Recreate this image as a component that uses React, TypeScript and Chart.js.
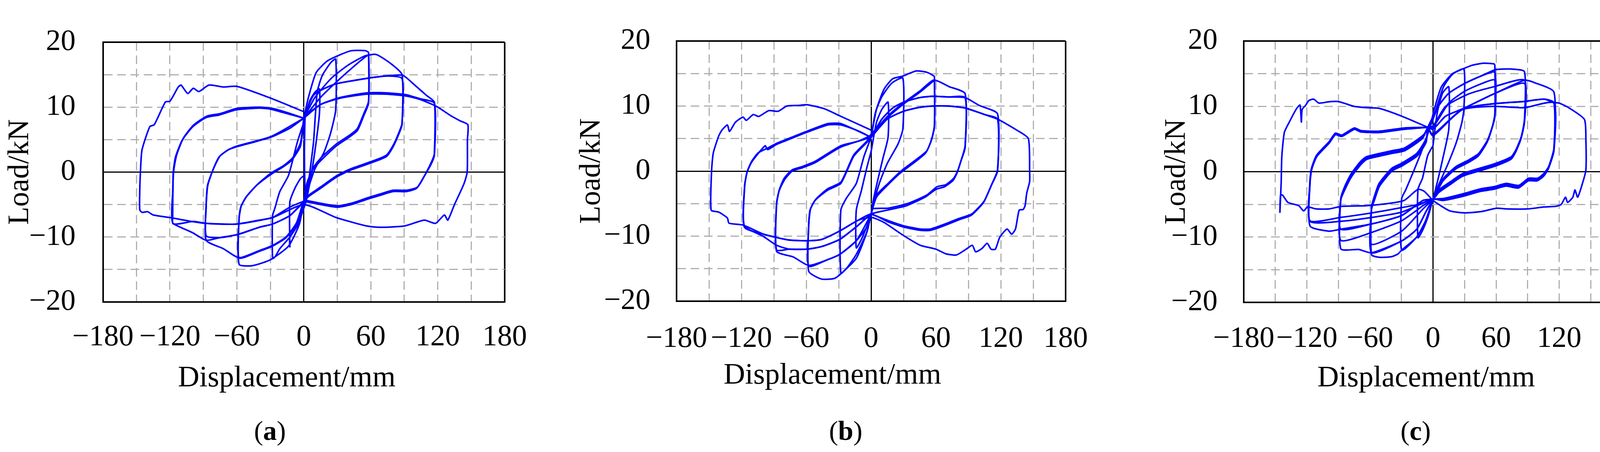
import React, { useEffect, useRef } from 'react';
import { Chart, registerables } from 'chart.js';

Chart.register(...registerables);

type Pt = [number, number];

// ---- tick values ----
const xTicks = [-180, -150, -120, -90, -60, -30, 0, 30, 60, 90, 120, 150, 180];
const yTicks = [-20, -15, -10, -5, 0, 5, 10, 15, 20];
const xLabelEvery = 60;
const yLabelEvery = 10;

// ---- specimen (a): load (kN) vs displacement (mm) ----
const aCycle14: Pt[] = [[0.5, -0.5], [0.5, 4], [1, 8.2], [5.4, 11], [10, 12.3], [14, 12.8], [14, 9], [10, 3.3], [6, -1], [2, -4.5], [-5.8, -8.2], [-12.5, -10], [-12.5, -11.5], [-12.5, -4.6], [-8, -2.5], [-3, -1], [0.5, -0.5]];
const aCycle28: Pt[] = [[1, 8.2], [0.5, 3], [1, -2], [2, -4.5], [5.4, 0], [8.7, 4.6], [12, 12.3], [16.6, 14.9], [24.4, 16.9], [28.6, 17.4], [28.6, 9.6], [24, 6], [18, 3], [10, 0.5], [5, -2], [2, -4.5], [-5.8, -8.2], [-12.5, -10], [-21.5, -11.8], [-26, -13.1], [-28, -13.3], [-28, -6.7], [-26, -5.6], [-21.5, -3], [-13.7, -0.5], [-5.8, 4.6], [1, 8.2]];
const aCycle58a: Pt[] = [[0, 8.3], [4, 11.4], [11, 15.3], [21, 17.1], [33, 18.1], [43, 18.7], [55, 18.7], [58, 18.4], [58, 10.9], [54, 9.1], [48, 6.7], [42, 5.8], [29, 4.3], [16, 2.3], [9, 0.8], [3, -1.6], [0, -4.5], [-4, -8], [-13.7, -11.4], [-30, -13.5], [-46, -14.4], [-58, -14.2], [-58, -7], [-56.5, -5.4], [-52, -3.9], [-42, -2], [-29, -0.3], [-18.5, 0.8], [-11, 1.8], [-3, 4], [0, 8.3]];
const aCycle58b: Pt[] = [[0, 8.3], [15, 11.5], [30, 14], [45, 16.3], [56.5, 17.9], [58, 17.9], [58, 10.6], [54, 8.8], [48, 6.4], [40, 5.3], [29, 4], [16, 1.9], [8, 0.4], [3, -2.2], [0, -4.8], [-6.5, -8], [-16, -10.1], [-28, -11.4], [-40, -12.2], [-58, -13.2], [-58, -7.2], [-56, -5.2], [-51, -3.7], [-41, -1.8], [-29, -0.1], [-18, 1], [-10, 2.2], [-3, 4.5], [0, 8.3]];
const aCycle88a: Pt[] = [[0, 8.3], [10, 11.5], [25, 14.5], [40, 16.5], [55, 17.9], [65, 18.1], [78, 16.7], [88, 15], [88, 7.5], [85, 6], [80, 4.1], [74, 2.6], [60, 1.6], [42, 0.5], [30, -0.5], [15, -2.3], [4, -3.6], [0, -4.4], [-6.5, -7.8], [-16, -10], [-28, -11.3], [-40, -12.1], [-58, -13.2], [-72, -11.8], [-87.5, -10.5], [-87.5, -5.4], [-86.3, -2.1], [-81.5, 0.3], [-76, 2.3], [-68, 3.4], [-60, 3.9], [-45, 4.6], [-29, 5.4], [-12, 6.8], [0, 8.3]];
const aCycle88b: Pt[] = [[0, 8.3], [9, 11.9], [27, 13.5], [45, 14.1], [59, 14.5], [74, 14.8], [88, 14.4], [88, 7.3], [85, 5.8], [80, 3.9], [74, 2.4], [60, 1.4], [42, 0.3], [30, -0.7], [15, -2.5], [4, -3.8], [0, -4.6], [-12.5, -6.7], [-28, -8], [-40, -8.5], [-59, -9.6], [-75.6, -10.1], [-87.5, -9.8], [-87.5, -5], [-86, -2], [-81, 0.5], [-75, 2.5], [-67, 3.5], [-60, 4], [-29, 5.5], [0, 8.3]];
const aCycle117a: Pt[] = [[0, 8.5], [9, 11.9], [27, 13.5], [45, 14.1], [59, 14.5], [74, 14.8], [88.7, 14.9], [100, 13.3], [110, 11.8], [117, 10.75], [117, 2.85], [115, 1.8], [109, -0.3], [102, -2.3], [92, -2.8], [80, -2.8], [68, -3.4], [56.5, -4], [44.6, -4.7], [30, -5.2], [15, -4.8], [3, -4.4], [0, -4.5], [-12.5, -6.7], [-28, -8], [-40, -8.5], [-59, -9.6], [-75.6, -10.1], [-87.5, -10.5], [-100, -9.3], [-117.3, -7.9], [-117.5, -7], [-117.3, -2.8], [-117, 0], [-115, 2.3], [-109, 4.9], [-99.4, 7], [-87.5, 8.4], [-75.6, 8.8], [-60, 9.6], [-40, 9.85], [-30, 9.7], [-15, 9], [0, 8.3]];
const aCycle117b: Pt[] = [[0, 8.3], [15, 10.4], [33, 11.5], [56.5, 12.2], [74, 12.2], [92, 11.9], [104, 11.3], [117, 10.6], [117, 2.6], [114, 1.2], [108, -0.6], [101, -2.5], [92, -3], [80, -3], [68, -3.6], [56.5, -4.2], [44.6, -4.9], [30, -5.4], [15, -5], [3, -4.6], [0, -4.5], [-12.5, -5.4], [-28, -7], [-40, -7.4], [-60, -8], [-75.6, -8], [-87.5, -7.9], [-99, -7.6], [-117.3, -7.9], [-117.3, -2.5], [-116.5, 0.3], [-114, 2.6], [-108, 5.2], [-99, 7.2], [-87, 8.6], [-75, 9], [-60, 9.8], [-40, 10], [-28, 9.8], [-12, 9], [0, 8.3]];
const aCycle147: Pt[] = [[0, 8.5], [15, 10.4], [33, 11.4], [56.5, 12], [74, 12], [92, 11.7], [104, 11.2], [119, 10.1], [131.5, 8.7], [140, 7.9], [147, 7.3], [146.6, 4.9], [146.4, 0], [143.5, -1.8], [135, -5], [129, -7.4], [126, -6.6], [118, -7.9], [108, -7.4], [90, -8.3], [68, -8.5], [56.5, -8.3], [29, -7], [0, -5], [-28, -7], [-60, -8], [-87.5, -7.9], [-104, -7.5], [-120, -7], [-135, -6.6], [-140, -6.1], [-145, -6.2], [-147, -5.8], [-147, -2.8], [-146.4, 0], [-145, 3.4], [-138, 7], [-134, 7.3], [-124, 10.8], [-120, 10.9], [-112.5, 13.1], [-110, 13.4], [-104, 12.1], [-99, 12.9], [-94, 12.4], [-85, 13.4], [-72, 13.1], [-60, 13.2], [-30, 11.4], [0, 9.3]];

// ---- specimen (b) ----
const bCycle15: Pt[] = [[0, 3], [5, 7.5], [10, 9.5], [15.7, 10.6], [15.7, 5.2], [11, 2], [6, -1.5], [2, -4.5], [0, -6.6], [-4, -8.5], [-9, -10.5], [-13.7, -11.8], [-13.7, -6], [-9, -3], [-4, 0.5], [0, 3]];
const bCycle29: Pt[] = [[0, 5.2], [4, 9], [9.8, 11.4], [19, 13.5], [29.4, 14.3], [29.4, 6.5], [25, 4.2], [15, 1.2], [8, -1.7], [3, -4.5], [0, -6.6], [-4, -9.4], [-13.7, -12.8], [-22, -14.8], [-28, -15.7], [-28, -6], [-23, -4.2], [-13.7, -1.9], [-6.5, 2.3], [0, 5.2]];
const bCycle58a: Pt[] = [[0, 5.2], [5, 9.5], [12, 12.6], [20, 14.2], [29.4, 14.6], [33.6, 14.9], [42, 15.4], [51.4, 15.2], [57.4, 14.7], [58.6, 14.5], [58.6, 7], [56, 4.9], [51.4, 3.1], [39.5, 1.5], [27.6, 0], [15.7, -1.9], [5, -3.7], [0, -6.6], [-4, -9.4], [-13.7, -13.4], [-28, -15.8], [-34, -16.5], [-45.8, -16.6], [-57.7, -15.4], [-57.7, -8.1], [-56.5, -6], [-51.8, -4.5], [-40, -2.9], [-28, -1.9], [-16, 2.3], [-4, 4.4], [0, 5.2]];
const bCycle58b: Pt[] = [[0, 5.7], [15, 8.2], [30, 10.3], [45, 12.1], [58, 13.9], [58.6, 13.9], [58.6, 6.8], [55.5, 4.6], [50.5, 2.8], [39, 1.2], [27, -0.3], [15, -2.2], [5, -4], [0, -6.6], [-4, -8.6], [-13.7, -10.7], [-29, -12.8], [-40, -13.6], [-57.7, -14.6], [-57.7, -8.3], [-56, -5.8], [-51, -4.3], [-40, -2.7], [-28, -1.7], [-16, 2.5], [-4, 4.6], [0, 5.7]];
const bCycle87a: Pt[] = [[0, 5.5], [15, 8.4], [30, 10.5], [45, 12.3], [58, 14], [72, 13], [87, 11.9], [87, 3.9], [83.6, 1.8], [80, 0], [76.4, -1.1], [69, -2.1], [61, -2.4], [51.4, -3.7], [33.6, -5], [15.7, -5.7], [1.4, -5.8], [0, -6.6], [-13.7, -10.7], [-29, -12.8], [-40, -13.6], [-57.7, -14.5], [-72, -13.2], [-87.5, -12.3], [-87.5, -5], [-85, -2.9], [-80.4, -1.1], [-73, 0.2], [-63.7, 0.7], [-51.8, 1.5], [-28, 3.9], [-12, 4.6], [0, 5.5]];
const bCycle87b: Pt[] = [[0, 5.2], [10, 8], [20, 9.7], [30, 10.6], [45, 11.3], [57, 11.5], [72, 11.4], [87, 11.3], [87, 3.6], [83, 1.5], [79.5, -0.3], [76, -1.4], [68, -2.4], [60, -2.8], [50, -4], [33, -5.3], [15, -6], [0, -6.6], [-12.5, -8.4], [-29, -10.5], [-45.8, -11.6], [-59, -12], [-75.6, -12], [-87.5, -12.1], [-87.5, -5.2], [-85, -3], [-80, -1.3], [-73, 0], [-63.7, 0.5], [-51.8, 1.3], [-28, 3.7], [0, 5.2]];
const bCycle117a: Pt[] = [[0, 5.2], [10, 8], [20, 9.7], [30, 10.6], [45, 11.3], [57, 11.5], [72, 11.4], [87, 11.3], [100, 10.1], [117, 8.8], [117, 0.2], [112, -1.9], [105, -4.5], [100, -5.5], [93, -6.6], [81, -7.3], [69, -8.1], [55, -8.9], [45.5, -8.9], [30, -8.4], [15.7, -7.6], [1.4, -6.7], [0, -6.6], [-12.5, -8.4], [-29, -10.5], [-45.8, -11.6], [-59, -12], [-75.6, -12], [-87.5, -11.4], [-100, -10], [-117.3, -8.4], [-117, -2.4], [-115, -0.3], [-111, 1.25], [-105, 2.6], [-98, 3.9], [-95.8, 3.3], [-87.5, 4.1], [-75.6, 4.9], [-63.7, 5.7], [-40, 7.1], [-28, 7.1], [-12, 6.2], [0, 5.2]];
const bCycle117b: Pt[] = [[0, 5.2], [15, 8], [30, 9.2], [45, 9.8], [57, 10], [72, 10], [87, 9.7], [100, 9], [105, 8.7], [117, 8], [117, 0], [111.5, -2.1], [104.5, -4.7], [99.5, -5.7], [92.5, -6.8], [81, -7.5], [69, -8.3], [55, -9.1], [45.5, -9.1], [30, -8.6], [15.7, -7.8], [0, -6.6], [-12.5, -7.6], [-29, -9.2], [-45.8, -10.5], [-59, -10.7], [-75.6, -10.6], [-87.5, -10.2], [-99.4, -9.7], [-117.3, -8.6], [-117, -2.2], [-114.5, 0], [-110.5, 1.5], [-104.5, 2.8], [-95, 3.6], [-87, 4.3], [-75, 5.1], [-63, 5.9], [-40, 7.3], [-28, 7.3], [0, 5.2]];
const bCycle147: Pt[] = [[0, 5.2], [15, 8], [30, 9.2], [45, 9.8], [57, 10], [72, 10], [87, 9.7], [105, 8.7], [117, 8], [121.6, 7.6], [134.8, 6.3], [145.5, 5], [146.7, 0], [146.7, -1.6], [144, -3.4], [142.5, -5.3], [140.7, -5.9], [137, -6], [133.6, -8.9], [130, -9.7], [125.8, -8.9], [119, -10.2], [115, -12], [111, -12], [107.4, -11.1], [102.6, -11.9], [96.7, -12.4], [93.7, -11.4], [88, -12], [78.8, -12.9], [69, -12.7], [60, -12], [45.5, -11.4], [30, -9.9], [12, -7.9], [0, -7.1], [-12.5, -7.6], [-29, -9.2], [-45.8, -10.5], [-59, -10.7], [-75.6, -10.6], [-87.5, -10.2], [-99.4, -9.7], [-118.5, -8.3], [-131.5, -8], [-133, -7.2], [-141, -6.3], [-148, -6], [-147.6, 0], [-146, 2.8], [-141, 5.4], [-138, 6.3], [-133, 7.1], [-131, 6.1], [-125.6, 7.5], [-118.5, 8.3], [-115.5, 7.8], [-109, 8.7], [-104, 8.4], [-94.6, 9.3], [-86, 9.2], [-78, 10], [-67, 10.1], [-59, 10.2], [-43.5, 9.6], [-29, 8.5], [0, 6.3]];

// ---- specimen (c) ----
const cCycle15: Pt[] = [[0, 4], [4, 9], [9, 12], [15, 13], [15, 6.5], [10, 2.5], [5, -1], [0, -4.2], [-5, -7], [-10, -9], [-14.3, -10.1], [-14.3, -2.7], [-10, -1], [-5, 2.5], [0, 4]];
const cCycle30: Pt[] = [[-3, 6.8], [0, 8], [4, 10.1], [10, 13], [18.5, 14.9], [29.4, 15.7], [29.4, 9.6], [27.4, 7.5], [22, 4.4], [13.7, 1], [5.4, -2], [0, -4.2], [-7, -7.5], [-15.5, -10], [-29.8, -12], [-29.8, -4.1], [-26, -2.8], [-18, 0.26], [-10, 3.5], [-3, 6.8]];
const cCycle59a: Pt[] = [[-3, 6.8], [2, 10], [8, 13], [18.5, 15], [29.4, 15.8], [37.5, 16.3], [48, 16.6], [58, 16.5], [58.8, 16.3], [58.8, 8.8], [56.6, 7], [52, 4.9], [43.5, 2.8], [34, 1.8], [22, 0.8], [10, -1], [1.8, -3.4], [0, -4.2], [-7, -7.5], [-15.5, -10], [-29.8, -12], [-33.4, -12.6], [-39.4, -13], [-51.3, -13.1], [-58.5, -12.7], [-58.5, -5.4], [-56, -3.9], [-51.3, -1.8], [-39.4, 0.5], [-29.8, 1.3], [-15.5, 2.8], [-7, 4.9], [-3, 6.8]];
const cCycle59b: Pt[] = [[-5, 6.8], [5, 10], [15, 12], [30, 13.5], [45, 14.6], [58.8, 15.2], [58.8, 8.6], [56.3, 6.8], [51.7, 4.7], [43.2, 2.6], [33.7, 1.6], [21.7, 0.6], [9.7, -1.2], [1.6, -3.6], [0, -4.2], [-7, -6.2], [-15.5, -8.8], [-29.8, -10.6], [-58.5, -12.4], [-58.5, -5.6], [-55.8, -4.1], [-51, -2], [-39.2, 0.3], [-29.6, 1.1], [-15.3, 2.6], [-6.8, 4.7], [-5, 6.8]];
const cCycle59c: Pt[] = [[-5, 6.8], [0, 6.8], [15, 10.5], [30, 12.3], [45, 13.4], [58.8, 14], [58.8, 8.4], [56, 6.6], [51.4, 4.5], [43, 2.4], [33.5, 1.4], [21.5, 0.4], [9.5, -1.4], [1.4, -3.8], [0, -4.2], [-9.5, -5.7], [-29.8, -9.1], [-58.5, -11.1], [-58.5, -5.8], [-55.6, -4.3], [-50.8, -2.2], [-39, 0.1], [-29.4, 0.9], [-15.1, 2.4], [-6.6, 4.5], [-5, 6.8]];
const cCycle87a: Pt[] = [[-3, 6.8], [5, 10], [15, 12], [30, 13.5], [45, 14.6], [58.8, 15.6], [65, 15.7], [75.7, 15.7], [87, 15.3], [87, 8], [84, 5.4], [79, 3.4], [74.5, 2.3], [60, 1.3], [46, 0.6], [28, -0.3], [16, -1.6], [5.4, -2.8], [0, -4.2], [-7, -6.2], [-15.5, -8.8], [-29.8, -10.6], [-58.5, -12.4], [-70.8, -11.9], [-87.7, -11.8], [-87.7, -4.1], [-83.5, -2.1], [-77.6, -0.26], [-69, 1.55], [-63.2, 2.3], [-39.4, 3.2], [-27.4, 3.6], [-10, 5.5], [-3, 6.8]];
const cCycle87b: Pt[] = [[-5, 6.8], [0, 7], [12, 10], [34, 11.9], [57.8, 13], [87, 14], [87, 7.8], [83.8, 5.2], [78.8, 3.2], [74.3, 2.1], [60, 1.1], [46, 0.4], [28, -0.5], [16, -1.8], [5.4, -3], [0, -4.2], [-9.5, -5.2], [-29.8, -7.5], [-58.5, -9.3], [-87.7, -10.5], [-87.7, -4.2], [-83.3, -2.3], [-77.4, -0.5], [-68.8, 1.3], [-63, 2.1], [-39.2, 3], [-27.2, 3.4], [-10, 5.3], [-5, 6.8]];
const cCycle87c: Pt[] = [[-5, 6.8], [0, 6.5], [12, 8.5], [28, 9.6], [57.8, 11.9], [87, 13.5], [87, 7.6], [83.6, 5], [78.6, 3], [74.1, 1.9], [60, 0.9], [46, 0.2], [28, -0.7], [16, -2], [5.4, -3.2], [0, -4.2], [-9.5, -4.4], [-29.8, -6.7], [-58.5, -8], [-87.7, -8.8], [-87.7, -4.3], [-83.1, -2.5], [-77.2, -0.7], [-68.6, 1.1], [-62.8, 1.9], [-39, 2.8], [-27, 3.2], [-10, 5.1], [-5, 6.8]];
const cCycle115a: Pt[] = [[-5, 6.8], [0, 6.5], [12, 8.5], [28, 9.6], [57.8, 11.9], [87, 14], [97, 13.6], [115, 12.2], [115, 3.6], [110, 0.8], [105.5, -0.26], [99.5, -1], [91, -1], [81.6, -2.1], [69.7, -1.8], [57.8, -2.3], [46, -2.6], [28, -3.4], [10, -4.1], [0, -4.2], [-9.5, -4.4], [-29.8, -6.7], [-58.5, -8], [-87.7, -8.8], [-99, -9.1], [-117, -8.3], [-117, -1.6], [-115.8, 0.26], [-111, 2.3], [-99, 4.4], [-93, 5.7], [-87, 5.4], [-75, 6.5], [-69, 6.1], [-51.3, 6], [-27.4, 6.5], [-5, 6.8]];
const cCycle115b: Pt[] = [[-5, 6.8], [0, 5.5], [28, 9.6], [57.8, 10.4], [87, 10.75], [105.5, 11.1], [115, 10.6], [115, 3.4], [109.8, 0.6], [105.3, -0.5], [99.3, -1.2], [90.8, -1.2], [81.4, -2.3], [69.5, -2], [57.6, -2.5], [45.8, -2.8], [27.8, -3.6], [9.8, -4.3], [0, -4.2], [-14, -5], [-30, -5.5], [-58, -6.3], [-88, -7], [-117, -7.5], [-117, -1.4], [-115.6, 0.5], [-110.8, 2.5], [-98.8, 4.6], [-92.8, 5.9], [-86.8, 5.6], [-74.8, 6.7], [-68.8, 6.3], [-51, 6.2], [-27, 6.7], [-5, 6.8]];
const cCycle115c: Pt[] = [[-5, 6.8], [0, 5.7], [28, 9.5], [57.8, 10], [87, 9.8], [115, 10.5], [115, 3.2], [109.6, 0.4], [105.1, -0.7], [99.1, -1.4], [90.6, -1.4], [81.2, -2.5], [69.3, -2.2], [57.4, -2.7], [45.6, -3], [27.6, -3.8], [9.6, -4.4], [0, -4.2], [-30, -6.2], [-58, -7], [-88, -7.6], [-117, -7.6], [-117, -1.8], [-115.4, 0.3], [-110.6, 2.3], [-98.6, 4.4], [-92.6, 5.7], [-86.6, 5.4], [-74.6, 6.5], [-68.6, 6.1], [-51, 6], [-27, 6.5], [-5, 6.8]];
const cCycle145: Pt[] = [[-5, 6.8], [0, 5.7], [28, 9.6], [57.8, 10.4], [87, 10.75], [105.5, 11.1], [115, 10.6], [120, 10.5], [129, 9.8], [144, 8], [145.4, 4.9], [145.4, 0.26], [142.5, -1.6], [137.6, -3.9], [135, -2.8], [133, -3.9], [128, -4.7], [126, -3.9], [122, -5], [117, -5.3], [105.5, -5.4], [90, -5.7], [69.7, -5.7], [60, -5.6], [46, -6.1], [30.4, -6.3], [16, -6], [5.4, -5], [0, -4.4], [-8.4, -3], [-14.3, -2.7], [-27.4, -4.4], [-39.4, -4.8], [-63.2, -5.2], [-87, -5.3], [-99, -5.7], [-111, -5.7], [-119.4, -5.4], [-123, -6], [-127.7, -5.2], [-138, -4.7], [-143, -3.6], [-145, -3.6], [-145.6, -6.2], [-144.4, -1.6], [-143.8, 2.3], [-141.4, 6], [-137, 7.5], [-130, 9.6], [-126.5, 10.2], [-125.2, 7.6], [-124.5, 9.5], [-121, 10.2], [-118, 10.9], [-113.4, 11.1], [-108.6, 10.5], [-99, 10.7], [-90.7, 10.75], [-84.8, 10.5], [-75.2, 10], [-63.2, 9.8], [-51.3, 9.7], [-29.8, 8.5], [-5, 6.8]];

const loopsA = [aCycle14, aCycle28, aCycle58a, aCycle58b, aCycle88a, aCycle88b, aCycle117a, aCycle117b, aCycle147];
const loopsB = [bCycle15, bCycle29, bCycle58a, bCycle58b, bCycle87a, bCycle87b, bCycle117a, bCycle117b, bCycle147];
const loopsC = [cCycle15, cCycle30, cCycle59a, cCycle59b, cCycle59c, cCycle87a, cCycle87b, cCycle87c, cCycle115a, cCycle115b, cCycle115c, cCycle145];

const FONT = "'Liberation Serif', 'Times New Roman', serif";
const CANVAS_W = 1422;
const CANVAS_H = 1010;

interface PanelLayout {
  left: number;       // page x of the canvas
  yWidth: number;     // width kept for the y axis (chart area left edge)
  rightPad: number;
  topPad: number;
  xHeight: number;    // height kept for the x axis
  yTickPad: number;
  xTickPad: number;
  yTitlePad: number;
  xTitleX: number;    // page centre of the x title
  xTitleY: number;
  captionX: number;   // page centre of the (a)/(b)/(c) caption
}

const fmt = (v: number) => (v < 0 ? '\u2212' + Math.abs(v) : String(v));

function Panel({ loops, layout, letter }: { loops: Pt[][]; layout: PanelLayout; letter: string }) {
  const canvasRef = useRef<HTMLCanvasElement>(null);
  const chartRef = useRef<Chart | null>(null);

  useEffect(() => {
    if (!canvasRef.current) return;
    if (chartRef.current) chartRef.current.destroy();

    const solid = (v: number, min: number, max: number) => v === 0 || v === min || v === max;
    const edge = (v: number, min: number, max: number) => v === min || v === max;

    chartRef.current = new Chart(canvasRef.current, {
      type: 'scatter',
      data: {
        datasets: loops.map((loop) => ({
          data: loop.map(([x, y]) => ({ x, y })),
          showLine: true,
          borderColor: 'rgb(0, 0, 255)',
          borderWidth: 4,
          pointRadius: 0,
          tension: 0.2,
          fill: false,
        })),
      },
      options: {
        animation: false,
        responsive: true,
        maintainAspectRatio: false,
        layout: { padding: { left: 0, top: layout.topPad, right: layout.rightPad, bottom: 0 } },
        plugins: { legend: { display: false }, tooltip: { enabled: false } },
        scales: {
          x: {
            type: 'linear',
            min: -180,
            max: 180,
            afterBuildTicks: (s: any) => { s.ticks = xTicks.map((value) => ({ value })); },
            afterFit: (s: any) => { s.height = layout.xHeight; },
            ticks: {
              autoSkip: false,
              maxRotation: 0,
              minRotation: 0,
              padding: layout.xTickPad,
              color: '#000',
              font: { family: FONT, size: 76, lineHeight: 1 },
              callback: (v: any) => (Number(v) % xLabelEvery === 0 ? fmt(Number(v)) : ''),
            },
            grid: {
              drawTicks: false,
              color: (c: any) => (c.tick && solid(c.tick.value, -180, 180) ? '#000' : '#b0b0b0'),
              lineWidth: (c: any) => (c.tick && edge(c.tick.value, -180, 180) ? 4 : 3),
            },
            border: {
              display: true,
              color: '#000',
              width: 4,
              dash: (c: any) => (c.tick && solid(c.tick.value, -180, 180) ? [] : [22, 12]),
            },
            title: { display: false },
          },
          y: {
            type: 'linear',
            min: -20,
            max: 20,
            afterBuildTicks: (s: any) => { s.ticks = yTicks.map((value) => ({ value })); },
            afterFit: (s: any) => { s.width = layout.yWidth; },
            ticks: {
              autoSkip: false,
              padding: layout.yTickPad,
              color: '#000',
              font: { family: FONT, size: 76, lineHeight: 1 },
              callback: (v: any) => (Number(v) % yLabelEvery === 0 ? fmt(Number(v)) : ''),
            },
            grid: {
              drawTicks: false,
              color: (c: any) => (c.tick && solid(c.tick.value, -20, 20) ? '#000' : '#b0b0b0'),
              lineWidth: (c: any) => (c.tick && edge(c.tick.value, -20, 20) ? 4 : 3),
            },
            border: {
              display: true,
              color: '#000',
              width: 4,
              dash: (c: any) => (c.tick && solid(c.tick.value, -20, 20) ? [] : [22, 12]),
            },
            title: {
              display: true,
              text: 'Load/kN',
              color: '#000',
              font: { family: FONT, size: 76, lineHeight: 1 },
              padding: { top: layout.yTitlePad, bottom: 0 },
            },
          },
        },
      },
    } as any);

    return () => {
      if (chartRef.current) {
        chartRef.current.destroy();
        chartRef.current = null;
      }
    };
  }, [loops, layout]);

  const text: React.CSSProperties = { position: 'absolute', textAlign: 'center', fontFamily: FONT, color: '#000', whiteSpace: 'nowrap' };

  return (
    <>
      <div style={{ position: 'absolute', left: layout.left, top: 0, width: CANVAS_W, height: CANVAS_H }}>
        <canvas ref={canvasRef}></canvas>
      </div>
      <div style={{ ...text, left: layout.xTitleX - 400, top: layout.xTitleY - 38, width: 800, fontSize: 76, lineHeight: '76px' }}>
        Displacement/mm
      </div>
      <div style={{ ...text, left: layout.captionX - 150, top: 1068, width: 300, fontSize: 70, lineHeight: '70px' }}>
        (<b>{letter}</b>)
      </div>
    </>
  );
}

const layoutA: PanelLayout = { left: 0, yWidth: 263.5, rightPad: 130, topPad: 54, xHeight: 237, yTickPad: 70, xTickPad: 53, yTitlePad: 14, xTitleX: 734, xTitleY: 963, captionX: 691 };
const layoutB: PanelLayout = { left: 1422, yWidth: 310, rightPad: 65, topPad: 53, xHeight: 239, yTickPad: 67, xTickPad: 59, yTitlePad: 55, xTitleX: 2131, xTitleY: 956, captionX: 2165 };
const layoutC: PanelLayout = { left: 2844, yWidth: 340, rightPad: 71, topPad: 43, xHeight: 236, yTickPad: 67, xTickPad: 56, yTitlePad: 131, xTitleX: 3651, xTitleY: 963, captionX: 3624 };

export default function App() {
  return (
    <div style={{ position: 'absolute', left: 0, top: 0, width: 4266, height: 1157, background: '#fff', overflow: 'hidden' }}>
      <Panel loops={loopsA} layout={layoutA} letter="a" />
      <Panel loops={loopsB} layout={layoutB} letter="b" />
      <Panel loops={loopsC} layout={layoutC} letter="c" />
    </div>
  );
}
